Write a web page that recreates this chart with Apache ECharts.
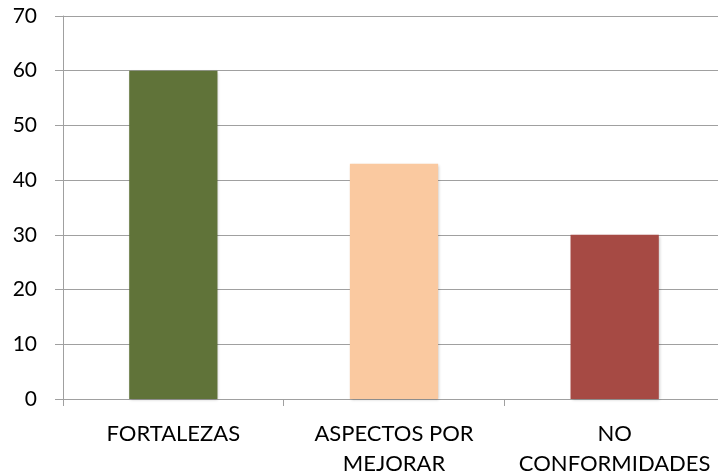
<!DOCTYPE html>
<html>
<head>
<meta charset="utf-8">
<script src="https://cdn.jsdelivr.net/npm/echarts@6/dist/echarts.min.js"></script>
<style>
  html, body { margin: 0; padding: 0; background: #fff; }
  #chart { width: 718px; height: 475px; }
</style>
</head>
<body>
<div id="chart"></div>
<script>
// chart data
const categories = ["FORTALEZAS", "ASPECTOS POR\nMEJORAR", "NO\nCONFORMIDADES"];
const values = [60, 43, 30];
const barColors = ["#607339", "#fac9a0", "#a64a44"];
const yTicks = { min: 0, max: 70, interval: 10 };

const chart = echarts.init(document.getElementById("chart"));
chart.setOption({
  animation: false,
  grid: {
    left: 63,
    right: -7,
    top: 16,
    bottom: 76,
    containLabel: false,
    outerBoundsMode: "none",
  },
  xAxis: {
    type: "category",
    data: categories,
    axisLine: { lineStyle: { color: "#a0a0a0", width: 1 } },
    axisTick: { show: true, length: 7, lineStyle: { color: "#a0a0a0" } },
    axisLabel: {
      color: "#000",
      fontFamily: "Lato",
      fontSize: 22,
      lineHeight: 30,
      margin: 20,
      interval: 0,
      hideOverlap: false,
    },
  },
  yAxis: {
    type: "value",
    min: yTicks.min,
    max: yTicks.max,
    interval: yTicks.interval,
    axisLine: { show: true, lineStyle: { color: "#a0a0a0", width: 1 } },
    axisTick: { show: true, length: 8, lineStyle: { color: "#a0a0a0" } },
    axisLabel: {
      color: "#000",
      fontFamily: "Lato",
      fontSize: 21,
      margin: 26,
    },
    splitLine: { lineStyle: { color: "#a0a0a0", width: 1 } },
  },
  series: [
    {
      type: "bar",
      barWidth: "40%",
      data: values.map((v, i) => ({
        value: v,
        itemStyle: {
          color: barColors[i],
          shadowColor: "rgba(0,0,0,0.25)",
          shadowBlur: 3,
          shadowOffsetX: 1,
          shadowOffsetY: 1,
        },
      })),
    },
  ],
});
</script>
</body>
</html>
